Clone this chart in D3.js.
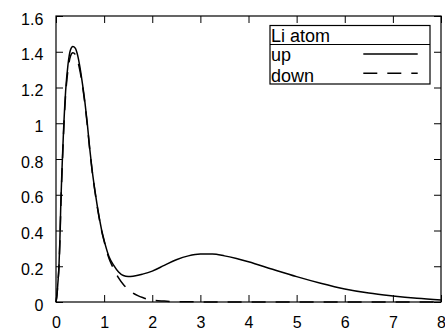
<!DOCTYPE html>
<html>
<head>
<meta charset="utf-8">
<script src="https://cdn.jsdelivr.net/npm/d3@7"></script>
<style>
  html, body { margin: 0; padding: 0; background: #fff; }
  svg { display: block; font-family: "Liberation Sans", Arial, Helvetica, sans-serif; }
</style>
</head>
<body>
<svg id="chart" width="445" height="329"></svg>
<script>
// ---- data ----
const xTicks = [0, 1, 2, 3, 4, 5, 6, 7, 8];
const yTicks = [0, 0.2, 0.4, 0.6, 0.8, 1, 1.2, 1.4, 1.6];
const yTickLabels = ["0", "0.2", "0.4", "0.6", "0.8", "1", "1.2", "1.4", "1.6"];
const legendTitle = "Li atom";
const seriesNames = ["up", "down"];

const upX = [0, 0.02, 0.04, 0.06, 0.08, 0.1, 0.12, 0.14, 0.16, 0.18, 0.2, 0.25, 0.3, 0.35, 0.4, 0.45, 0.5, 0.55, 0.6, 0.65, 0.7, 0.75, 0.8, 0.85, 0.9, 0.95, 1.0, 1.1, 1.2, 1.3, 1.4, 1.5, 1.6, 1.8, 2.0, 2.25, 2.5, 2.75, 3.0, 3.25, 3.5, 3.75, 4.0, 4.5, 5.0, 5.5, 6.0, 6.5, 7.0, 7.5, 8.0];
const upY = [0, 0.04, 0.11, 0.19, 0.34, 0.55, 0.71, 0.85, 0.98, 1.09, 1.18, 1.33, 1.41, 1.43, 1.42, 1.38, 1.31, 1.22, 1.12, 1.00, 0.86, 0.74, 0.64, 0.55, 0.47, 0.40, 0.345, 0.255, 0.205, 0.168, 0.148, 0.142, 0.144, 0.156, 0.173, 0.205, 0.236, 0.258, 0.268, 0.268, 0.258, 0.243, 0.225, 0.183, 0.142, 0.105, 0.073, 0.050, 0.034, 0.021, 0.011];

const downX = [0, 0.02, 0.04, 0.06, 0.08, 0.1, 0.12, 0.14, 0.16, 0.18, 0.2, 0.25, 0.3, 0.35, 0.4, 0.45, 0.5, 0.55, 0.6, 0.65, 0.7, 0.75, 0.8, 0.85, 0.9, 0.95, 1.0, 1.1, 1.2, 1.3, 1.4, 1.5, 1.6, 1.7, 1.8, 1.9, 2.0, 2.25, 2.5, 3.0, 3.5, 4.0, 5.0, 6.0, 7.0, 8.0];
const downY = [0, 0.04, 0.11, 0.19, 0.33, 0.53, 0.69, 0.83, 0.96, 1.07, 1.16, 1.30, 1.375, 1.395, 1.385, 1.35, 1.29, 1.21, 1.11, 0.99, 0.855, 0.735, 0.635, 0.545, 0.465, 0.395, 0.34, 0.245, 0.185, 0.135, 0.098, 0.07, 0.05, 0.036, 0.025, 0.016, 0.01, 0.005, 0.002, 0.0005, 0, 0, 0, 0, 0, 0];

// ---- layout ----
const svg = d3.select("#chart");
const mLeft = 56, mRight = 441, mTop = 16, mBottom = 302;

const x = d3.scaleLinear().domain([0, 8]).range([mLeft, mRight]);
const y = d3.scaleLinear().domain([0, 1.6]).range([mBottom, mTop]);

const tickLen = 7;

// bottom axis (ticks inward)
const gx = svg.append("g").attr("transform", `translate(0,${mBottom})`)
  .call(d3.axisBottom(x).tickValues(xTicks).tickSize(-tickLen).tickFormat(d3.format("d")));
gx.select(".domain").remove();
gx.selectAll("text").attr("y", 25.5).attr("dy", null)
  .attr("font-size", 16).attr("font-family", "Liberation Sans, Arial, sans-serif").attr("fill", "#000");
gx.selectAll("line").attr("stroke", "#000");

// top mirror ticks
const gxt = svg.append("g").attr("transform", `translate(0,${mTop})`)
  .call(d3.axisTop(x).tickValues(xTicks).tickSize(-tickLen).tickFormat(""));
gxt.select(".domain").remove();
gxt.selectAll("line").attr("stroke", "#000");

// left axis
const gy = svg.append("g").attr("transform", `translate(${mLeft},0)`)
  .call(d3.axisLeft(y).tickValues(yTicks).tickSize(-tickLen).tickFormat((d, i) => yTickLabels[i]));
gy.select(".domain").remove();
gy.selectAll("text").attr("x", -12.7).attr("y", 8).attr("dy", null)
  .attr("font-size", 16).attr("font-family", "Liberation Sans, Arial, sans-serif").attr("fill", "#000");
gy.selectAll("line").attr("stroke", "#000");

// right mirror ticks
const gyr = svg.append("g").attr("transform", `translate(${mRight},0)`)
  .call(d3.axisRight(y).tickValues(yTicks).tickSize(-tickLen).tickFormat(""));
gyr.select(".domain").remove();
gyr.selectAll("line").attr("stroke", "#000");

// frame
svg.append("rect")
  .attr("x", mLeft).attr("y", mTop)
  .attr("width", mRight - mLeft).attr("height", mBottom - mTop)
  .attr("fill", "none").attr("stroke", "#000").attr("stroke-width", 1.2);

// curves
const line = d3.line().x(d => x(d[0])).y(d => y(d[1])).curve(d3.curveMonotoneX);
const upData = upX.map((v, i) => [v, upY[i]]);
const downData = downX.map((v, i) => [v, downY[i]]);

svg.append("path").datum(downData).attr("d", line)
  .attr("fill", "none").attr("stroke", "#000").attr("stroke-width", 1.5)
  .attr("stroke-dasharray", "14,10");
svg.append("path").datum(upData).attr("d", line)
  .attr("fill", "none").attr("stroke", "#000").attr("stroke-width", 1.5);

// legend
const lg = svg.append("g");
const lgX0 = 270, lgX1 = 430, lgY0 = 25.5, lgSep = 44.5, lgY1 = 84;
lg.append("rect").attr("x", lgX0).attr("y", lgY0).attr("width", lgX1 - lgX0).attr("height", lgY1 - lgY0)
  .attr("fill", "#fff").attr("stroke", "#000").attr("stroke-width", 1.2);
lg.append("line").attr("x1", lgX0).attr("x2", lgX1).attr("y1", lgSep).attr("y2", lgSep)
  .attr("stroke", "#000").attr("stroke-width", 1.2);
lg.append("text").attr("x", 271).attr("y", 42.3).attr("font-size", 18).text(legendTitle);
const rows = [{ name: seriesNames[0], yb: 61, yl: 54, dash: null },
              { name: seriesNames[1], yb: 81.5, yl: 73.3, dash: "14,10" }];
rows.forEach(r => {
  lg.append("text").attr("x", 271).attr("y", r.yb).attr("font-size", 18).text(r.name);
  lg.append("line").attr("x1", 363.3).attr("x2", 417.7).attr("y1", r.yl).attr("y2", r.yl)
    .attr("stroke", "#000").attr("stroke-width", 1.5).attr("stroke-dasharray", r.dash);
});
</script>
</body>
</html>
